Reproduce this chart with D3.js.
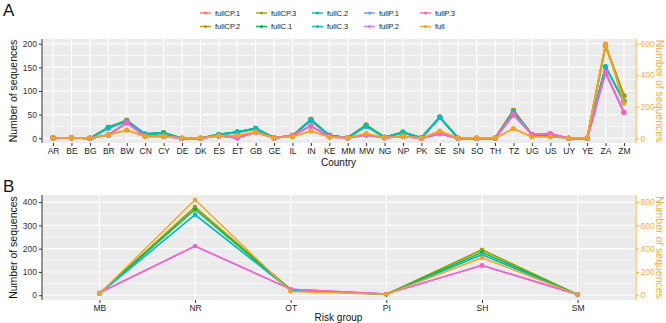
<!DOCTYPE html>
<html>
<head>
<meta charset="utf-8">
<script src="https://cdn.jsdelivr.net/npm/d3@7"></script>
<style>
  body { margin: 0; background: #fff; }
  svg { font-family: "Liberation Sans", Arial, sans-serif; }
</style>
</head>
<body>
<div id="chart"></div>
<script>
// ---- data ----
const seriesNames = ["fullCP.1", "fullCP.2", "fullCP.3", "fullC.1", "fullC.2", "fullC.3", "fullP.1", "fullP.2", "fullP.3", "full"];
const seriesColors = ["#F8766D", "#D39200", "#93AA00", "#00BA38", "#00C19F", "#00BCCC", "#619CFF", "#DB72FB", "#FF61C3", "#F5A31E"];

// panel A: country
const countries = ["AR", "BE", "BG", "BR", "BW", "CN", "CY", "DE", "DK", "ES", "ET", "GB", "GE", "IL", "IN", "KE",
  "MM", "MW", "NG", "NP", "PK", "SE", "SN", "SO", "TH", "TZ", "UG", "US", "UY", "YE", "ZA", "ZM"];
const countryCP1 = [1, 1, 0, 23, 38, 8, 12, 0, 0, 7, 13, 20, 1, 5, 40, 6, 1, 28, 2, 13, 1, 45, 0, 0, 0, 59, 8, 8, 0, 0, 196, 90];
const countryCP2 = [1, 1, 0, 23, 38, 8, 12, 0, 0, 7, 13, 20, 1, 5, 40, 6, 1, 28, 2, 13, 1, 45, 0, 0, 0, 59, 8, 8, 0, 0, 196, 90];
const countryCP3 = [1, 1, 0, 23, 38, 8, 12, 0, 0, 7, 13, 20, 1, 5, 40, 6, 1, 28, 2, 13, 1, 45, 0, 0, 0, 59, 8, 8, 0, 0, 196, 90];
const countryC1 = [1, 1, 0, 22, 36, 9, 11, 0, 0, 8, 13, 21, 1, 5, 38, 6, 1, 26, 2, 12, 1, 44, 0, 0, 0, 55, 8, 7, 0, 0, 151, 78];
const countryC2 = [1, 1, 0, 22, 36, 9, 11, 0, 0, 8, 13, 21, 1, 5, 38, 6, 1, 26, 2, 12, 1, 44, 0, 0, 0, 55, 8, 7, 0, 0, 151, 78];
const countryC3 = [1, 1, 0, 22, 36, 9, 11, 0, 0, 8, 13, 21, 1, 5, 38, 6, 1, 26, 2, 12, 1, 44, 0, 0, 0, 55, 8, 7, 0, 0, 151, 78];
const countryP1 = [1, 1, 0, 7, 33, 4, 4, 0, 0, 5, 1, 13, 1, 6, 26, 3, 1, 7, 1, 4, 0, 10, 0, 0, 0, 50, 8, 10, 0, 0, 139, 55];
const countryP2 = [1, 1, 0, 7, 33, 4, 4, 0, 0, 5, 1, 13, 1, 6, 26, 3, 1, 7, 1, 4, 0, 10, 0, 0, 0, 50, 8, 10, 0, 0, 139, 55];
const countryP3 = [1, 1, 0, 7, 33, 4, 4, 0, 0, 5, 1, 13, 1, 6, 26, 3, 1, 7, 1, 4, 0, 10, 0, 0, 0, 50, 8, 10, 0, 0, 139, 55];
const countryFull = [2, 3, 1, 21, 52, 12, 12, 1, 1, 15, 18, 39, 2, 11, 46, 8, 2, 30, 4, 12, 1, 46, 1, 1, 1, 61, 9, 9, 1, 1, 600, 225]; // right axis
const countryTicksLeft = [0, 50, 100, 150, 200];
const countryTicksRight = [0, 200, 400, 600];

// panel B: risk group
const riskGroups = ["MB", "NR", "OT", "PI", "SH", "SM"];
const riskCP1 = [7, 379, 24, 4, 195, 3];
const riskCP2 = [7, 379, 24, 4, 195, 3];
const riskCP3 = [7, 379, 24, 4, 195, 3];
const riskC1 = [7, 368, 23, 4, 184, 3];
const riskC2 = [7, 346, 22, 4, 174, 3];
const riskC3 = [7, 346, 22, 4, 174, 3];
const riskP1 = [10, 211, 26, 6, 128, 3];
const riskP2 = [10, 211, 26, 6, 128, 3];
const riskP3 = [10, 211, 26, 6, 128, 3];
const riskFull = [12, 820, 32, 8, 322, 6]; // right axis
const riskTicksLeft = [0, 100, 200, 300, 400];
const riskTicksRight = [0, 200, 400, 600, 800];

const width = 666, height = 323;
const fullColor = seriesColors[9];
const axisFull = "#F2AE3C";

const svg = d3.select("#chart").append("svg")
  .attr("width", width)
  .attr("height", height);

function panel(opts) {
  const { cats, series, full, k, top, bottom, ticksL, ticksR, minorStep, xTitle, xTitleY, letter, letterY, ptR, lw } = opts;
  const left = 42, right = 635;

  const maxV = d3.max([...series.flat(), ...full.map(v => v / k)]);
  const pad = maxV * 0.05;
  const y = d3.scaleLinear().domain([-pad, maxV + pad]).range([bottom, top]);
  const yR = d3.scaleLinear().domain([-pad * k, (maxV + pad) * k]).range([bottom, top]);
  const x = d3.scalePoint().domain(cats).range([left, right]).padding(0.6);

  const g = svg.append("g");
  g.append("rect").attr("x", left).attr("y", top).attr("width", right - left).attr("height", bottom - top)
    .attr("fill", "#EBEBEB");

  // grid: minor between major ticks, then major, then one per category
  g.append("g").selectAll("line").data(d3.range(minorStep, maxV + pad, minorStep * 2))
    .join("line")
    .attr("x1", left).attr("x2", right)
    .attr("y1", d => y(d)).attr("y2", d => y(d))
    .attr("stroke", "#fff").attr("stroke-width", 0.6);
  g.append("g").selectAll("line").data(ticksL)
    .join("line")
    .attr("x1", left).attr("x2", right)
    .attr("y1", d => y(d)).attr("y2", d => y(d))
    .attr("stroke", "#fff").attr("stroke-width", 1.1);
  g.append("g").selectAll("line").data(cats)
    .join("line")
    .attr("x1", d => x(d)).attr("x2", d => x(d))
    .attr("y1", top).attr("y2", bottom)
    .attr("stroke", "#fff").attr("stroke-width", 1.1);

  // left axis
  const axL = g.append("g").attr("transform", `translate(${left},0)`)
    .call(d3.axisLeft(y).tickValues(ticksL).tickSize(3).tickPadding(2));
  axL.select(".domain").attr("d", `M0,${top}V${bottom}`).attr("stroke", "#333");
  axL.selectAll(".tick line").attr("stroke", "#333");
  axL.selectAll("text").attr("font-size", 8.5).attr("fill", "#333").attr("font-family", "Liberation Sans, Arial, sans-serif");

  // right axis
  const axR = g.append("g").attr("transform", `translate(${right + 1},0)`)
    .call(d3.axisRight(yR).tickValues(ticksR).tickSize(3).tickPadding(1.5));
  axR.select(".domain").attr("d", `M0,${top}V${bottom}`).attr("stroke", axisFull);
  axR.selectAll(".tick line").attr("stroke", axisFull);
  axR.selectAll("text").attr("font-size", 8.5).attr("fill", axisFull).attr("font-family", "Liberation Sans, Arial, sans-serif");

  // bottom axis
  const axB = g.append("g").attr("transform", `translate(0,${bottom})`)
    .call(d3.axisBottom(x).tickSize(3).tickPadding(1.5));
  axB.select(".domain").remove();
  axB.selectAll(".tick line").attr("stroke", "#333");
  axB.selectAll("text").attr("font-size", 8.5).attr("fill", "#222").attr("font-family", "Liberation Sans, Arial, sans-serif");

  // titles
  const midY = (top + bottom) / 2;
  g.append("text").attr("transform", `translate(17,${midY}) rotate(-90)`)
    .attr("text-anchor", "middle").attr("font-size", 10.5).attr("fill", "#111")
    .text("Number of sequences");
  g.append("text").attr("transform", `translate(656,${midY}) rotate(90)`)
    .attr("text-anchor", "middle").attr("font-size", 10.5).attr("fill", axisFull)
    .text("Number of sequences");
  g.append("text").attr("x", (left + right) / 2).attr("y", xTitleY)
    .attr("text-anchor", "middle").attr("font-size", 10).attr("fill", "#111")
    .text(xTitle);
  g.append("text").attr("x", 3).attr("y", letterY)
    .attr("font-size", 17).attr("fill", "#111")
    .text(letter);

  // series, drawn in legend order with "full" on the secondary scale
  const all = series.map((vals, i) => ({ name: seriesNames[i], color: seriesColors[i], vals, k: 1 }))
    .concat([{ name: "full", color: fullColor, vals: full, k: k }]);
  const line = d3.line().x((d, i) => x(cats[i])).y(d => d);
  const lg = g.append("g");
  all.forEach(s => {
    const pts = s.vals.map(v => y(v / s.k));
    lg.append("path").attr("d", line(pts)).attr("fill", "none")
      .attr("stroke", s.color).attr("stroke-width", lw).attr("stroke-linejoin", "round");
    lg.append("g").selectAll("circle").data(pts).join("circle")
      .attr("cx", (d, i) => x(cats[i])).attr("cy", d => d).attr("r", ptR)
      .attr("fill", s.color);
  });
}

panel({
  cats: countries,
  series: [countryCP1, countryCP2, countryCP3, countryC1, countryC2, countryC3, countryP1, countryP2, countryP3],
  full: countryFull, k: 3, top: 39, bottom: 143,
  ticksL: countryTicksLeft, ticksR: countryTicksRight, minorStep: 25,
  xTitle: "Country", xTitleY: 165.5, letter: "A", letterY: 16, ptR: 2.6, lw: 1.8
});

panel({
  cats: riskGroups,
  series: [riskCP1, riskCP2, riskCP3, riskC1, riskC2, riskC3, riskP1, riskP2, riskP3],
  full: riskFull, k: 2, top: 195, bottom: 300,
  ticksL: riskTicksLeft, ticksR: riskTicksRight, minorStep: 50,
  xTitle: "Risk group", xTitleY: 320.5, letter: "B", letterY: 192, ptR: 2.2, lw: 1.4
});

// legend
const legendCols = [200, 256, 312, 364, 420];
const legend = svg.append("g");
seriesNames.forEach((name, i) => {
  const col = Math.floor(i / 2), row = i % 2;
  const lx = legendCols[col], ly = 13 + row * 13.5;
  legend.append("line").attr("x1", lx).attr("x2", lx + 11).attr("y1", ly).attr("y2", ly)
    .attr("stroke", seriesColors[i]).attr("stroke-width", 1.4);
  legend.append("circle").attr("cx", lx + 5.5).attr("cy", ly).attr("r", 1.6).attr("fill", seriesColors[i]);
  legend.append("text").attr("x", lx + 15).attr("y", ly + 2.7)
    .attr("font-size", 7.5).attr("fill", "#222").text(name);
});
</script>
</body>
</html>
